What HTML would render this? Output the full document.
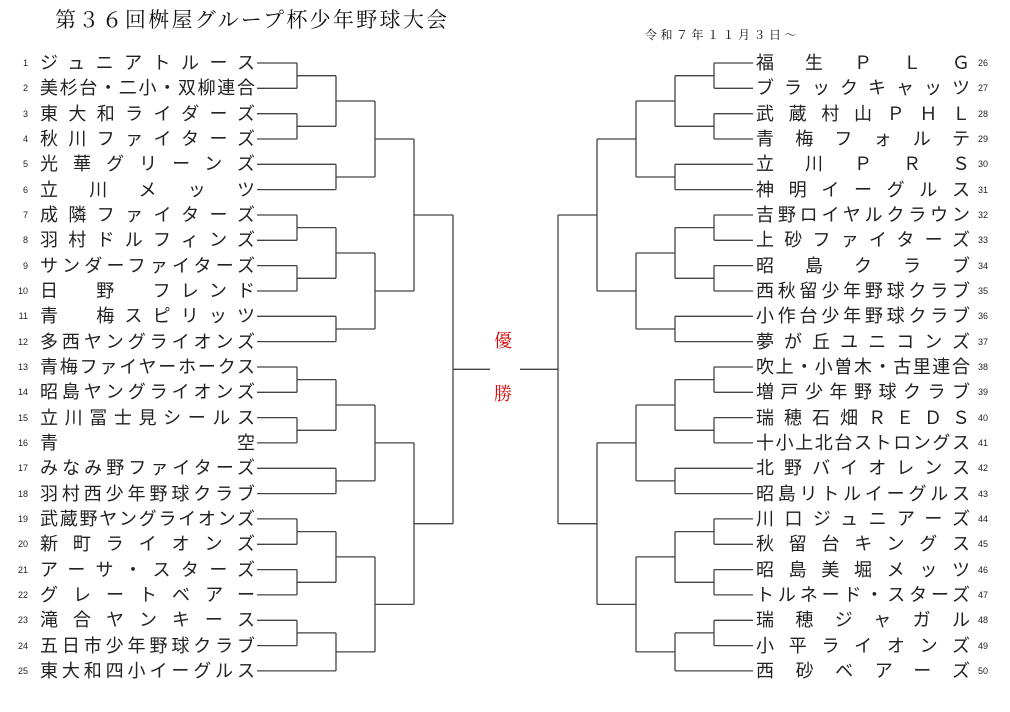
<!DOCTYPE html>
<html><head><meta charset="utf-8">
<style>
html,body{margin:0;padding:0;background:#fff;}
body{width:1010px;height:712px;position:relative;overflow:hidden;font-family:"Liberation Sans","Noto Sans CJK JP",sans-serif;color:#222;}
.title{position:absolute;left:55px;top:4px;font-family:"Liberation Serif","Noto Serif CJK SC",serif;font-size:21px;letter-spacing:2.3px;white-space:nowrap;color:#111;}
.date{position:absolute;left:645px;top:26px;font-family:"Liberation Serif","Noto Serif CJK SC",serif;font-size:12px;letter-spacing:3.5px;white-space:nowrap;color:#111;}
.n{position:absolute;font-size:9px;width:20px;line-height:12px;}
.nl{left:8px;text-align:right;}
.nr{left:978px;text-align:left;}
.t{position:absolute;font-size:18px;line-height:22px;height:22px;text-align:justify;text-align-last:justify;white-space:nowrap;overflow:visible;}
.tl{left:40px;width:215px;}
.tr{left:756px;width:214px;}
.w{position:absolute;left:494px;font-family:"Liberation Serif","Noto Serif CJK SC",serif;font-size:18px;color:#d00;}
svg{position:absolute;left:0;top:0;}
</style></head><body>
<div class="title">第３６回桝屋グループ杯少年野球大会</div>
<div class="date">令和７年１１月３日～</div>
<div class="w" style="top:327px">優</div>
<div class="w" style="top:380px">勝</div>
<div id="labels">
<div class="t tl" style="top:52px">ジュニアトルース</div>
<div class="t tl" style="top:77px">美杉台・二小・双柳連合</div>
<div class="t tl" style="top:103px">東大和ライダーズ</div>
<div class="t tl" style="top:128px">秋川ファイターズ</div>
<div class="t tl" style="top:153px">光華グリーンズ</div>
<div class="t tl" style="top:179px">立　川　メ　ッ　ツ</div>
<div class="t tl" style="top:204px">成隣ファイターズ</div>
<div class="t tl" style="top:229px">羽村ドルフィンズ</div>
<div class="t tl" style="top:255px">サンダーファイターズ</div>
<div class="t tl" style="top:280px">日　野　フレンド</div>
<div class="t tl" style="top:305px">青　梅スピリッツ</div>
<div class="t tl" style="top:331px">多西ヤングライオンズ</div>
<div class="t tl" style="top:356px">青梅ファイヤーホークス</div>
<div class="t tl" style="top:381px">昭島ヤングライオンズ</div>
<div class="t tl" style="top:407px">立川冨士見シールス</div>
<div class="t tl" style="top:432px">青　　　　　　　　空</div>
<div class="t tl" style="top:457px">みなみ野ファイターズ</div>
<div class="t tl" style="top:483px">羽村西少年野球クラブ</div>
<div class="t tl" style="top:508px">武蔵野ヤングライオンズ</div>
<div class="t tl" style="top:533px">新町ライオンズ</div>
<div class="t tl" style="top:559px">アーサ・スターズ</div>
<div class="t tl" style="top:584px">グレートベアー</div>
<div class="t tl" style="top:609px">滝合ヤンキース</div>
<div class="t tl" style="top:635px">五日市少年野球クラブ</div>
<div class="t tl" style="top:660px">東大和四小イーグルス</div>

<div class="t tr" style="top:52px">福　生　Ｐ　Ｌ　Ｇ</div>
<div class="t tr" style="top:77px">ブラックキャッツ</div>
<div class="t tr" style="top:103px">武蔵村山ＰＨＬ</div>
<div class="t tr" style="top:128px">青梅フォルテ</div>
<div class="t tr" style="top:153px">立　川　Ｐ　Ｒ　Ｓ</div>
<div class="t tr" style="top:179px">神明イーグルス</div>
<div class="t tr" style="top:204px">吉野ロイヤルクラウン</div>
<div class="t tr" style="top:229px">上砂ファイターズ</div>
<div class="t tr" style="top:255px">昭　島　ク　ラ　ブ</div>
<div class="t tr" style="top:280px">西秋留少年野球クラブ</div>
<div class="t tr" style="top:305px">小作台少年野球クラブ</div>
<div class="t tr" style="top:331px">夢が丘ユニコンズ</div>
<div class="t tr" style="top:356px">吹上・小曽木・古里連合</div>
<div class="t tr" style="top:381px">増戸少年野球クラブ</div>
<div class="t tr" style="top:407px">瑞穂石畑ＲＥＤＳ</div>
<div class="t tr" style="top:432px">十小上北台ストロングス</div>
<div class="t tr" style="top:457px">北野バイオレンス</div>
<div class="t tr" style="top:483px">昭島リトルイーグルス</div>
<div class="t tr" style="top:508px">川口ジュニアーズ</div>
<div class="t tr" style="top:533px">秋留台キングス</div>
<div class="t tr" style="top:559px">昭島美堀メッツ</div>
<div class="t tr" style="top:584px">トルネード・スターズ</div>
<div class="t tr" style="top:609px">瑞穂ジャガル</div>
<div class="t tr" style="top:635px">小平ライオンズ</div>
<div class="t tr" style="top:660px">西砂ベアーズ</div>
</div>
<div class="n nl" style="top:57px">1</div><div class="n nl" style="top:82px">2</div><div class="n nl" style="top:108px">3</div><div class="n nl" style="top:133px">4</div><div class="n nl" style="top:158px">5</div><div class="n nl" style="top:184px">6</div><div class="n nl" style="top:209px">7</div><div class="n nl" style="top:234px">8</div><div class="n nl" style="top:260px">9</div><div class="n nl" style="top:285px">10</div><div class="n nl" style="top:310px">11</div><div class="n nl" style="top:336px">12</div><div class="n nl" style="top:361px">13</div><div class="n nl" style="top:386px">14</div><div class="n nl" style="top:412px">15</div><div class="n nl" style="top:437px">16</div><div class="n nl" style="top:462px">17</div><div class="n nl" style="top:488px">18</div><div class="n nl" style="top:513px">19</div><div class="n nl" style="top:538px">20</div><div class="n nl" style="top:564px">21</div><div class="n nl" style="top:589px">22</div><div class="n nl" style="top:614px">23</div><div class="n nl" style="top:640px">24</div><div class="n nl" style="top:665px">25</div>
<div class="n nr" style="top:57px">26</div><div class="n nr" style="top:82px">27</div><div class="n nr" style="top:108px">28</div><div class="n nr" style="top:133px">29</div><div class="n nr" style="top:158px">30</div><div class="n nr" style="top:184px">31</div><div class="n nr" style="top:209px">32</div><div class="n nr" style="top:234px">33</div><div class="n nr" style="top:260px">34</div><div class="n nr" style="top:285px">35</div><div class="n nr" style="top:310px">36</div><div class="n nr" style="top:336px">37</div><div class="n nr" style="top:361px">38</div><div class="n nr" style="top:386px">39</div><div class="n nr" style="top:412px">40</div><div class="n nr" style="top:437px">41</div><div class="n nr" style="top:462px">42</div><div class="n nr" style="top:488px">43</div><div class="n nr" style="top:513px">44</div><div class="n nr" style="top:538px">45</div><div class="n nr" style="top:564px">46</div><div class="n nr" style="top:589px">47</div><div class="n nr" style="top:614px">48</div><div class="n nr" style="top:640px">49</div><div class="n nr" style="top:665px">50</div>
<svg id="s" width="1010" height="712" xmlns="http://www.w3.org/2000/svg"></svg>
<script>
(function(){
var svg=document.getElementById('s'),d='';
function Y(i){return 63+25.33*i;}
var T=[[[[[0,1],[2,3]],[4,5]],[[[6,7],[8,9]],[10,11]]],[[[[12,13],[14,15]],[16,17]],[[[18,19],[20,21]],[[22,23],24]]]];
function draw(node,depth,side){
  var x=side? 558+39*depth : 453-39*depth;
  var ys=[],i;
  for(i=0;i<2;i++){
    var c=node[i],y;
    if(typeof c==='number'){
      y=Y(c);
      var sx=side?753:257;
      d+='M'+sx+' '+y.toFixed(1)+'H'+x;
    }else{
      var cx=side? 558+39*(depth+1) : 453-39*(depth+1);
      y=draw(c,depth+1,side);
      d+='M'+cx+' '+y.toFixed(1)+'H'+x;
    }
    ys.push(y);
  }
  d+='M'+x+' '+ys[0].toFixed(1)+'V'+ys[1].toFixed(1);
  return (ys[0]+ys[1])/2;
}
var yl=draw(T,0,false);
d+='M453 '+yl.toFixed(1)+'H490';
var yr=draw(T,0,true);
d+='M558 '+yr.toFixed(1)+'H520';
var p=document.createElementNS('http://www.w3.org/2000/svg','path');
p.setAttribute('d',d);p.setAttribute('fill','none');p.setAttribute('stroke','#444');p.setAttribute('stroke-width','1.3');
svg.appendChild(p);
})();
</script>
</body></html>
